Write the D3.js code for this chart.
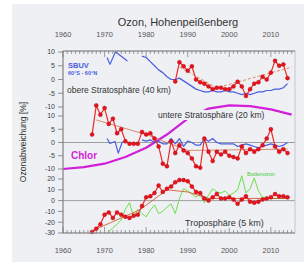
<!DOCTYPE html>
<html><head><meta charset="utf-8">
<script src="https://cdn.jsdelivr.net/npm/d3@7"></script>
<style>body{margin:0;background:#fff}svg{display:block}</style>
</head><body>
<svg id="c" width="306" height="266"></svg>
<script>
// ---------- data ----------
const title = "Ozon, Hohenpeißenberg";
const yearTicks = [1960, 1970, 1980, 1990, 2000, 2010];
const upperTicks = [10, 5, 0, -5, -10];
const middleTicks = [10, 5, 0, -5, -10];
const lowerTicks = [20, 10, 0, -10, -20, -30];

// upper stratosphere (40 km)
const upperRedYears = d3.range(1987, 2015);
const upperRedValues = [-0.7, 6.3, 4.8, 3.2, 4.8, 0, -1, -1.5, -2.5, -3.5, -3, -3, -3.5, -3.5, -2.5, -0.8, -2.5, -6, -3.5, -1.5, -1, 1, 0, 2.5, 6.8, 5, 5.5, 0.5];
const upperTrendYears = [1988, 1997, 2015];
const upperTrendValues = [4.5, -3, 4.5];
const sbuvUpperAYears = [1970.6, 1971.3, 1972.6, 1973.3, 1975.5];
const sbuvUpperAValues = [8, 5.5, 10, 9.3, 6.7];
const sbuvUpperBYears = d3.range(1979, 2015);
const sbuvUpperBValues = [8.5, 8, 6.5, 5, 3.5, 2.5, 1, 0, 0, 0.5, -0.5, -1.5, -2.5, -3.5, -4, -4.5, -4.5, -4, -4.5, -4.5, -4, -4.5, -4.5, -5, -5.5, -5, -5.5, -5, -4.5, -4.5, -4, -4, -3.5, -3.5, -3, -1.5];

// lower stratosphere (20 km)
const middleRedYears = d3.range(1967, 2015);
const middleRedValues = [3, 14, 10.5, 13, 7, 9, 3.5, 5, 0.5, -0.5, -0.5, -0.5, 4, 3, 3.5, 1.5, -1.5, -8, -9, 0.5, -4, -1, -3, -4, -6, -9, -9.5, 1.5, -3.5, -7, -3.5, -4.5, -3.5, -5, -5.5, -6, -1.5, -4, -2.5, -3.5, -2.5, -1, 1.5, 5, -1.5, -3.5, -2.5, -4];
const middleTrendYears = [1968, 1980, 1990, 2014];
const middleTrendValues = [8.5, 3, -3, -2.5];
const sbuvMiddleAYears = [1970.6, 1971.3, 1972.5, 1973.3, 1974.3];
const sbuvMiddleAValues = [1.5, -0.4, 0.4, -4, 0.4];
const sbuvMiddleBYears = d3.range(1979, 2015);
const sbuvMiddleBValues = [1, 0.5, 1, 0, 0.5, -0.5, -0.5, 1.5, -0.5, 1.5, -1.5, 0.5, 0, -1, -1, 1.5, 0.5, 1.5, 0, -0.5, -0.5, -0.5, -0.5, -1.5, -1, -0.5, -1, -1.5, -2, -1.5, -1, -0.5, -1, -1.5, -1, 0];
const chlorYears = [1960, 1965, 1970, 1975, 1980, 1985, 1990, 1995, 2000, 2005, 2010, 2015];
const chlorValues = [-10, -9.3, -8, -5.5, -2, 3, 9, 12.8, 14, 13.7, 12.5, 10.5];

// troposphere (5 km)
const lowerRedYears = d3.range(1967, 2015);
const lowerRedValues = [-29, -26, -22, -13, -11, -16, -11, -13, -15, -16, -14, -13, -5, 3, 4, 7, 14, 8, 11, 13, 17, 19, 19, 18, 13, 8, 7, 2, 0, 3, 6, 2, 2, 3, 1, -3, 1, 4, -1, -2, -1, 1, 2, 3, 6, 4, 4, 3];
const lowerTrendYears = [1967, 1978.5, 1985, 1990, 1995, 2014];
const lowerTrendValues = [-28, -8.5, 10, 8, 2, 2];
const greenYears = d3.range(1971, 2015);
const greenValues = [-29, -25, -22, -18, -8, -2, -15, -8, -12, -15, -9, -4, -12, -10, -6, -3, -12, 2, 11, 9, 6, 3, 6, -2, 5, 11, 8, 7, 9, 5, 7, 10, 23, 7, 11, 21, 9, 3, 3, 2, 2, 2, 2, 2];

// ---------- drawing ----------
const svg = d3.select("#c");
const bg = "#eef0f4";
const font = "'Liberation Sans', Arial, sans-serif";
svg.append("rect").attr("x", 12).attr("y", 4).attr("width", 292).attr("height", 258).attr("fill", bg);

const L = 63, R = 295, T = 51, B = 233;
const x = d3.scaleLinear().domain([1960, 2015.8]).range([L, R]);
const yU = d3.scaleLinear().domain([-10, 10]).range([107, 52]);
const yM = d3.scaleLinear().domain([-10, 10]).range([169, 116]);
const yL = d3.scaleLinear().domain([-30, 20]).range([233, 179]);

const zip = (xs, vs) => xs.map((d, i) => [d, vs[i]]);
function line(ys, xs, vs, color, w, dash) {
  const g = d3.line().x(d => x(d[0])).y(d => ys(d[1]));
  const p = svg.append("path").attr("d", g(zip(xs, vs))).attr("fill", "none")
    .attr("stroke", color).attr("stroke-width", w).attr("stroke-linejoin", "round");
  if (dash) p.attr("stroke-dasharray", dash);
  return p;
}
function dots(ys, xs, vs) {
  svg.append("g").selectAll("circle").data(zip(xs, vs)).join("circle")
    .attr("cx", d => x(d[0])).attr("cy", d => ys(d[1])).attr("r", 2)
    .attr("fill", "#e8141c").attr("stroke", "#b00010").attr("stroke-width", 0.4);
}

// zero lines
svg.append("line").attr("x1", L).attr("x2", R).attr("y1", yM(0)).attr("y2", yM(0)).attr("stroke", "#8a8a8a").attr("stroke-width", 0.8);
svg.append("line").attr("x1", L).attr("x2", R).attr("y1", yL(0)).attr("y2", yL(0)).attr("stroke", "#8a8a8a").attr("stroke-width", 0.8);

// Chlor
line(yM, chlorYears, chlorValues, "#d21fd8", 2.2);

// upper panel
line(yU, sbuvUpperAYears, sbuvUpperAValues, "#4a5ee0", 1.2);
line(yU, sbuvUpperBYears, sbuvUpperBValues, "#4a5ee0", 1.2);
line(yU, upperTrendYears, upperTrendValues, "#e07040", 0.8, "3,2");
line(yU, upperRedYears, upperRedValues, "#ee2a2a", 1.2);
dots(yU, upperRedYears, upperRedValues);

// middle panel
line(yM, sbuvMiddleAYears, sbuvMiddleAValues, "#4a5ee0", 1.2);
line(yM, sbuvMiddleBYears, sbuvMiddleBValues, "#4a5ee0", 1.2);
line(yM, middleTrendYears, middleTrendValues, "#d07050", 0.8);
line(yM, middleRedYears, middleRedValues, "#ee2a2a", 1.2);
dots(yM, middleRedYears, middleRedValues);

// lower panel
line(yL, greenYears, greenValues, "#6ee04a", 1);
line(yL, lowerTrendYears, lowerTrendValues, "#d06030", 0.9);
line(yL, lowerRedYears, lowerRedValues, "#ee2a2a", 1.2);
dots(yL, lowerRedYears, lowerRedValues);

// frame
svg.append("rect").attr("x", L).attr("y", T).attr("width", R - L).attr("height", B - T)
  .attr("fill", "none").attr("stroke", "#b8bcc4").attr("stroke-width", 0.8);
svg.append("line").attr("x1", L).attr("x2", L).attr("y1", T).attr("y2", B).attr("stroke", "#777").attr("stroke-width", 0.9);

// x axes
const minorYears = d3.range(1960, 2016);
[[T, 1], [B, -1]].forEach(([yy, dir]) => {
  svg.append("line").attr("x1", L).attr("x2", R).attr("y1", yy).attr("y2", yy).attr("stroke", "#777").attr("stroke-width", 0.9);
  svg.append("g").selectAll("line").data(minorYears).join("line")
    .attr("x1", d => x(d)).attr("x2", d => x(d)).attr("y1", yy)
    .attr("y2", d => yy + dir * (d % 10 === 0 ? 6 : 3)).attr("stroke", "#777").attr("stroke-width", 0.7);
});
svg.append("g").selectAll("text").data(yearTicks).join("text")
  .attr("x", d => x(d)).attr("y", 37).attr("text-anchor", "middle")
  .attr("font-family", font).attr("font-size", 7.5).attr("fill", "#555").text(d => d);
svg.append("g").selectAll("text").data(yearTicks).join("text")
  .attr("x", d => x(d)).attr("y", 253).attr("text-anchor", "middle")
  .attr("font-family", font).attr("font-size", 7.5).attr("fill", "#555").text(d => d);

// y axes (three stacked scales)
[[yU, upperTicks], [yM, middleTicks], [yL, lowerTicks]].forEach(([s, ticks]) => {
  const g = svg.append("g");
  g.selectAll("line").data(ticks).join("line")
    .attr("x1", L - 5).attr("x2", L).attr("y1", d => s(d)).attr("y2", d => s(d))
    .attr("stroke", "#777").attr("stroke-width", 0.8);
  g.selectAll("text").data(ticks).join("text")
    .attr("x", L - 8).attr("y", d => s(d) + 2.4).attr("text-anchor", "end")
    .attr("font-family", font).attr("font-size", 7).attr("fill", "#444").text(d => d);
});

// title & axis label
svg.append("text").attr("x", 178).attr("y", 26).attr("text-anchor", "middle")
  .attr("font-family", font).attr("font-size", 11).attr("fill", "#333").text(title);
svg.append("text").attr("transform", "translate(26,142) rotate(-90)").attr("text-anchor", "middle")
  .attr("font-family", font).attr("font-size", 8.5).attr("fill", "#333").text("Ozonabweichung [%]");

// labels with background
function label(tx, ty, txt, size, color, weight, boxed) {
  const t = svg.append("text").attr("x", tx).attr("y", ty).attr("font-family", font)
    .attr("font-size", size).attr("fill", color).attr("font-weight", weight || "normal").text(txt);
  if (boxed) {
    const b = t.node().getBBox();
    svg.insert("rect", () => t.node()).attr("x", b.x - 1).attr("y", b.y).attr("width", b.width + 2)
      .attr("height", b.height).attr("fill", bg);
  }
}
label(67, 93, "obere Stratosphäre (40 km)", 8.5, "#333", "normal", true);
label(158, 118, "untere Stratosphäre (20 km)", 8.5, "#333", "normal", true);
label(185, 226, "Troposphäre (5 km)", 9, "#333", "normal", true);
label(71, 159, "Chlor", 10, "#d21fd8", "bold", false);
label(68, 68, "SBUV", 7.5, "#4a5ee0", "bold", false);
label(68, 75, "60°S - 60°N", 5.5, "#4a5ee0", "bold", false);
label(247, 176, "Bodenozon", 5.5, "#44cc33", "normal", false);
</script>
</body></html>
